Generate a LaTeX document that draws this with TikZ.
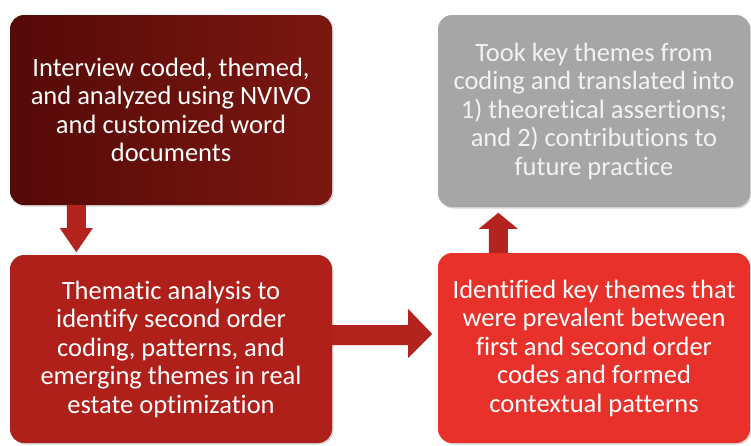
\documentclass[tikz,border=0pt]{standalone}
\usepackage{fontspec}
\setmainfont{Carlito}[Ligatures={NoCommon}]
\usetikzlibrary{calc,shadows}
\definecolor{darkred}{HTML}{550A07}
\definecolor{darkredR}{HTML}{7C1711}
\definecolor{midred}{HTML}{B0201B}
\definecolor{brightred}{HTML}{E8312A}
\definecolor{boxgray}{HTML}{A6A6A6}
\definecolor{arrowred}{HTML}{B3241F}
\tikzset{
  x=1pt, y=1pt,
  stagebox/.style={rounded corners=14pt, minimum width=322pt, minimum height=190pt,
    align=center, text=white, inner sep=0pt,
    font=\fontsize{26.5}{28.5}\selectfont,
    drop shadow={opacity=0.3, shadow xshift=1.5pt, shadow yshift=-1.5pt}},
  arrowbody/.style={fill=arrowred, draw=none}
}
\begin{document}
\begin{tikzpicture}
\useasboundingbox (0,0) rectangle (751,-445);
\fill[white] (0,0) rectangle (751,-445);

\node[stagebox, left color=darkred, right color=darkredR] (b1) at (171,-110)
  {Interview coded, themed,\\and analyzed using NVIVO\\and customized word\\documents};
\node[stagebox, fill=midred, minimum height=188pt] (b2) at (171,-349)
  {Thematic analysis to\\identify second order\\coding, patterns, and\\emerging themes in real\\estate optimization};
\node[stagebox, fill=boxgray, minimum width=312pt, minimum height=192pt, text=white!95!black] (b3) at (594,-111)
  {Took key themes from\\coding and translated into\\1) theoretical assertions;\\and 2) contributions to\\future practice};
\node[stagebox, fill=brightred, minimum width=312pt] (b4) at (594,-348)
  {Identified key themes that\\were prevalent between\\first and second order\\codes and formed\\contextual patterns};

% down arrow from b1 to b2
\fill[arrowbody] ($(b1.south west)+(57,0)$) -- ++(19,0) -- ++(0,-23) -- ++(7,0)
  -- ++(-16.5,-24) -- ++(-16.5,24) -- ++(7,0) -- cycle;
% right arrow from b2 to b4
\fill[arrowbody] ($(b2.east)+(0,24)$) -- ++(76,0) -- ++(0,16) -- ++(24,-25)
  -- ++(-24,-24) -- ++(0,13) -- ++(-76,0) -- cycle;
% up arrow from b4 to b3
\fill[arrowbody] ($(b4.north west)+(51,0)$) -- ++(19,0) -- ++(0,24) -- ++(10,0)
  -- ++(-19.5,16) -- ++(-19.5,-16) -- ++(10,0) -- cycle;
\end{tikzpicture}
\end{document}
